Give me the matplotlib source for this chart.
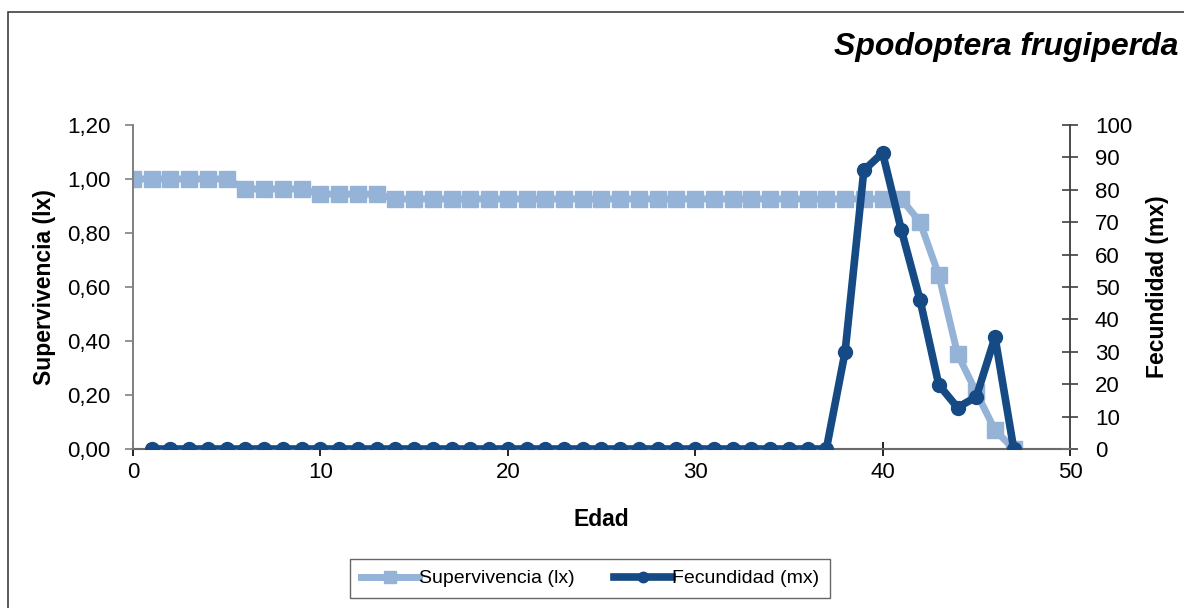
import matplotlib.pyplot as plt
import numpy as np
from matplotlib.ticker import FuncFormatter
import matplotlib.patches as mpatches

plt.rcParams['font.family'] = ['Liberation Sans', 'DejaVu Sans']

# survivorship (lx) by age 0..47
edad_lx = np.arange(0, 48)
lx = ([1.00] * 6 + [0.963] * 4 + [0.944] * 4 + [0.926] * 28
      + [0.84, 0.644, 0.352, 0.21, 0.07, 0.0])

# fecundity (mx) by age 1..47
edad_mx = np.arange(1, 48)
mx = [0] * 37 + [30, 86, 91.4, 67.6, 46, 19.8, 12.8, 16.1, 34.5, 0]

c_lx = '#95b3d7'
c_mx = '#154a85'

fig = plt.figure(figsize=(11.84, 6.08), dpi=100)
ax = fig.add_axes([0.1123, 0.2615, 0.7914, 0.5329])
ax2 = ax.twinx()

l1, = ax.plot(edad_lx, lx, color=c_lx, lw=5, marker='s', ms=12,
              label='Supervivencia (lx)', zorder=2)
l2, = ax2.plot(edad_mx, mx, color=c_mx, lw=5.5, marker='o', ms=10,
               label='Fecundidad (mx)', zorder=3)

ax.set_zorder(1)
ax2.set_zorder(2)
ax2.patch.set_visible(False)

ax.set_xlim(0, 50)
ax.set_ylim(0, 1.2)
ax2.set_ylim(0, 100)
ax.set_xticks(range(0, 51, 10))
ax.set_yticks(np.arange(0, 1.21, 0.2))
ax2.set_yticks(range(0, 101, 10))
ax.yaxis.set_major_formatter(FuncFormatter(lambda v, p: f'{v:.2f}'.replace('.', ',')))

for a in (ax, ax2):
    a.spines['top'].set_visible(False)
    for s in a.spines.values():
        s.set_color('#808080')
        s.set_linewidth(1.2)
    a.tick_params(labelsize=16, length=6, color='#808080', width=1.2)
ax.spines['bottom'].set_color('black')
ax.spines['bottom'].set_linewidth(1.5)
ax2.spines['right'].set_color('#404040')
ax.tick_params(axis='x', color='black', direction='inout', length=10, pad=4)
ax.tick_params(axis='y', pad=10)
ax2.tick_params(axis='y', color='#404040', direction='inout', length=12, pad=12)

ax.set_xlabel('Edad', fontsize=16.5, fontweight='bold', labelpad=18)
ax.set_ylabel('Supervivencia (lx)', fontsize=16.5, fontweight='bold', labelpad=8)
ax2.set_ylabel('Fecundidad (mx)', fontsize=16.5, fontweight='bold', labelpad=10)

fig.text(0.995, 0.923, 'Spodoptera frugiperda', ha='right', va='center',
         fontsize=23, fontweight='bold', fontstyle='italic')

leg = fig.legend(handles=[l1, l2], loc='center', bbox_to_anchor=(0.4985, 0.0485),
                 ncol=2, fontsize=14, frameon=True, fancybox=False,
                 edgecolor='#404040', handlelength=3.0, columnspacing=2.0,
                 handletextpad=0.0, borderpad=0.55, borderaxespad=0,
                 markerscale=0.75)
leg.get_frame().set_linewidth(1.0)

# outer chart-area border
fig.patches.append(mpatches.Rectangle((8 / 1184, -0.01), 1.0, 1 - 12 / 608 + 0.01,
                                      transform=fig.transFigure, fill=False,
                                      edgecolor='#404040', lw=1.2))

fig.savefig('out.png', dpi=100)
